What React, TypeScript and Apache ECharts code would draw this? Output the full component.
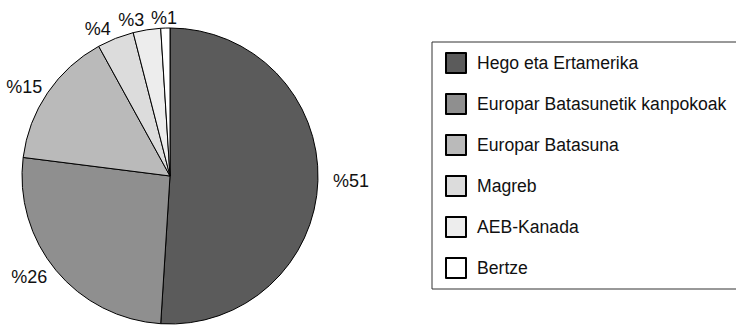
import React, { useEffect, useRef } from "react";
import * as echarts from "echarts";

const categories = [
  "Hego eta Ertamerika",
  "Europar Batasunetik kanpokoak",
  "Europar Batasuna",
  "Magreb",
  "AEB-Kanada",
  "Bertze",
];
const values = [51, 26, 15, 4, 3, 1];
const colors = ["#5b5b5b", "#8f8f8f", "#bababa", "#dcdcdc", "#ededed", "#ffffff"];

const FONT = "'Liberation Sans', Arial, Helvetica, sans-serif";

export default function App() {
  const ref = useRef<HTMLDivElement>(null);
  useEffect(() => {
    if (!ref.current) return;
    const chart = echarts.init(ref.current, undefined, { renderer: "svg" });
    const labelShift: Record<number, number> = { 0: 4, 2: 4 };
    chart.setOption({
      animation: false,
      backgroundColor: "#ffffff",
      textStyle: { fontFamily: FONT },
      legend: {
        orient: "vertical",
        left: 432,
        top: 42,
        padding: [10, 16, 10, 13],
        itemWidth: 20,
        itemHeight: 20,
        itemGap: 19,
        borderColor: "#333333",
        borderWidth: 1,
        borderRadius: 0,
        icon: "rect",
        textStyle: {
          fontSize: 17.6,
          lineHeight: 20,
          color: "#111111",
          fontFamily: FONT,
          padding: [0, 0, 0, 6],
        },
        data: categories,
      },
      series: [
        {
          type: "pie",
          center: [170, 176],
          radius: 148,
          startAngle: 90,
          clockwise: true,
          avoidLabelOverlap: false,
          itemStyle: { borderColor: "#000000", borderWidth: 1 },
          label: {
            show: true,
            position: "outside",
            formatter: (p: any) => "%" + p.value,
            fontSize: 18,
            color: "#111111",
            fontFamily: FONT,
            distanceToLabelLine: 1,
          },
          labelLine: { show: false, length: 10, length2: 0 },
          labelLayout: (p: any) => {
            if (p.dataIndex === values.length - 1) return { align: "center" };
            if (labelShift[p.dataIndex]) return { dx: labelShift[p.dataIndex] };
            return {};
          },
          emphasis: { disabled: true },
          data: categories.map((name, i) => ({
            name,
            value: values[i],
            itemStyle: { color: colors[i] },
          })),
        },
      ],
    });
    return () => chart.dispose();
  }, []);
  return (
    <div
      ref={ref}
      style={{ position: "fixed", left: 0, top: 0, width: 736, height: 325 }}
    />
  );
}
